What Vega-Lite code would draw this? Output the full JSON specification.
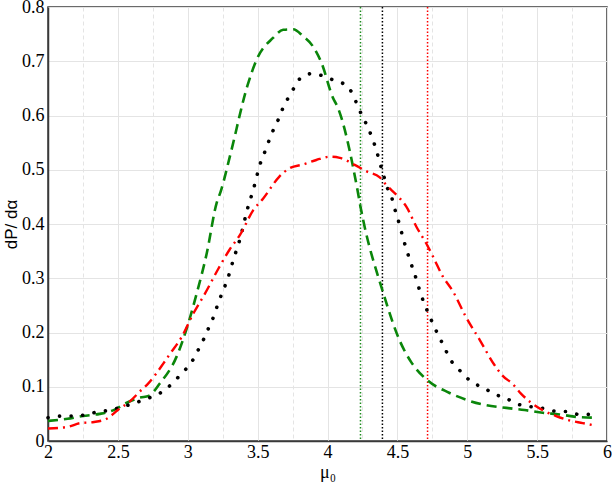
{
  "$schema": "https://vega.github.io/schema/vega-lite/v6.json",
  "width": 559,
  "height": 434,
  "autosize": {"type": "none"},
  "padding": {"left": 48, "top": 7, "right": 5, "bottom": 42},
  "background": "white",
  "config": {
    "view": {"stroke": "#3a3a3a", "strokeWidth": 1.5},
    "axis": {
      "domain": true, "domainColor": "#3a3a3a", "domainWidth": 1.5,
      "ticks": false,
      "labelFont": "Liberation Serif", "labelFontSize": 18, "labelColor": "#000",
      "labelFlush": false, "labelOverlap": false,
      "gridColor": "#e4e4e4", "gridWidth": 1,
      "titleColor": "#000"
    }
  },
  "datasets": {
    "curves": [
      {"s": "A", "x": 2.0, "y": 0.037}, {"s": "A", "x": 2.14, "y": 0.041}, {"s": "A", "x": 2.25, "y": 0.046}, {"s": "A", "x": 2.37, "y": 0.05}, {"s": "A", "x": 2.47, "y": 0.057}, {"s": "A", "x": 2.56, "y": 0.07}, {"s": "A", "x": 2.66, "y": 0.08}, {"s": "A", "x": 2.72, "y": 0.083}, {"s": "A", "x": 2.8, "y": 0.106}, {"s": "A", "x": 2.921, "y": 0.156}, {"s": "A", "x": 3.004, "y": 0.217}, {"s": "A", "x": 3.064, "y": 0.272}, {"s": "A", "x": 3.136, "y": 0.346}, {"s": "A", "x": 3.207, "y": 0.439}, {"s": "A", "x": 3.236, "y": 0.46}, {"s": "A", "x": 3.302, "y": 0.525}, {"s": "A", "x": 3.426, "y": 0.654}, {"s": "A", "x": 3.493, "y": 0.703}, {"s": "A", "x": 3.61, "y": 0.743}, {"s": "A", "x": 3.683, "y": 0.758}, {"s": "A", "x": 3.754, "y": 0.759}, {"s": "A", "x": 3.826, "y": 0.746}, {"s": "A", "x": 3.897, "y": 0.727}, {"s": "A", "x": 3.957, "y": 0.697}, {"s": "A", "x": 4.04, "y": 0.632}, {"s": "A", "x": 4.07, "y": 0.617}, {"s": "A", "x": 4.21, "y": 0.469}, {"s": "A", "x": 4.236, "y": 0.432}, {"s": "A", "x": 4.4, "y": 0.272}, {"s": "A", "x": 4.52, "y": 0.183}, {"s": "A", "x": 4.6, "y": 0.145}, {"s": "A", "x": 4.71, "y": 0.113}, {"s": "A", "x": 4.87, "y": 0.089}, {"s": "A", "x": 5.016, "y": 0.074}, {"s": "A", "x": 5.136, "y": 0.066}, {"s": "A", "x": 5.28, "y": 0.061}, {"s": "A", "x": 5.41, "y": 0.057}, {"s": "A", "x": 5.54, "y": 0.052}, {"s": "A", "x": 5.66, "y": 0.049}, {"s": "A", "x": 5.8, "y": 0.044}, {"s": "A", "x": 5.92, "y": 0.043},
      {"s": "B", "x": 2.0, "y": 0.043}, {"s": "B", "x": 2.1, "y": 0.046}, {"s": "B", "x": 2.19, "y": 0.046}, {"s": "B", "x": 2.28, "y": 0.049}, {"s": "B", "x": 2.36, "y": 0.054}, {"s": "B", "x": 2.45, "y": 0.057}, {"s": "B", "x": 2.53, "y": 0.063}, {"s": "B", "x": 2.61, "y": 0.069}, {"s": "B", "x": 2.695, "y": 0.077}, {"s": "B", "x": 2.779, "y": 0.085}, {"s": "B", "x": 2.85, "y": 0.097}, {"s": "B", "x": 2.914, "y": 0.113}, {"s": "B", "x": 2.974, "y": 0.129}, {"s": "B", "x": 3.029, "y": 0.146}, {"s": "B", "x": 3.071, "y": 0.166}, {"s": "B", "x": 3.111, "y": 0.186}, {"s": "B", "x": 3.147, "y": 0.207}, {"s": "B", "x": 3.183, "y": 0.228}, {"s": "B", "x": 3.211, "y": 0.249}, {"s": "B", "x": 3.243, "y": 0.271}, {"s": "B", "x": 3.274, "y": 0.291}, {"s": "B", "x": 3.302, "y": 0.312}, {"s": "B", "x": 3.326, "y": 0.334}, {"s": "B", "x": 3.354, "y": 0.356}, {"s": "B", "x": 3.379, "y": 0.377}, {"s": "B", "x": 3.4, "y": 0.399}, {"s": "B", "x": 3.42, "y": 0.421}, {"s": "B", "x": 3.445, "y": 0.443}, {"s": "B", "x": 3.47, "y": 0.464}, {"s": "B", "x": 3.493, "y": 0.487}, {"s": "B", "x": 3.516, "y": 0.509}, {"s": "B", "x": 3.547, "y": 0.53}, {"s": "B", "x": 3.576, "y": 0.55}, {"s": "B", "x": 3.61, "y": 0.572}, {"s": "B", "x": 3.647, "y": 0.592}, {"s": "B", "x": 3.68, "y": 0.613}, {"s": "B", "x": 3.72, "y": 0.633}, {"s": "B", "x": 3.766, "y": 0.653}, {"s": "B", "x": 3.814, "y": 0.671}, {"s": "B", "x": 3.886, "y": 0.677}, {"s": "B", "x": 3.969, "y": 0.673}, {"s": "B", "x": 4.052, "y": 0.664}, {"s": "B", "x": 4.131, "y": 0.656}, {"s": "B", "x": 4.179, "y": 0.64}, {"s": "B", "x": 4.214, "y": 0.619}, {"s": "B", "x": 4.25, "y": 0.598}, {"s": "B", "x": 4.29, "y": 0.578}, {"s": "B", "x": 4.32, "y": 0.558}, {"s": "B", "x": 4.35, "y": 0.536}, {"s": "B", "x": 4.374, "y": 0.513}, {"s": "B", "x": 4.397, "y": 0.494}, {"s": "B", "x": 4.42, "y": 0.472}, {"s": "B", "x": 4.457, "y": 0.451}, {"s": "B", "x": 4.48, "y": 0.429}, {"s": "B", "x": 4.505, "y": 0.408}, {"s": "B", "x": 4.552, "y": 0.364}, {"s": "B", "x": 4.58, "y": 0.341}, {"s": "B", "x": 4.607, "y": 0.32}, {"s": "B", "x": 4.636, "y": 0.298}, {"s": "B", "x": 4.66, "y": 0.277}, {"s": "B", "x": 4.69, "y": 0.255}, {"s": "B", "x": 4.724, "y": 0.234}, {"s": "B", "x": 4.758, "y": 0.214}, {"s": "B", "x": 4.797, "y": 0.193}, {"s": "B", "x": 4.838, "y": 0.172}, {"s": "B", "x": 4.874, "y": 0.152}, {"s": "B", "x": 4.93, "y": 0.135}, {"s": "B", "x": 4.99, "y": 0.118}, {"s": "B", "x": 5.06, "y": 0.105}, {"s": "B", "x": 5.136, "y": 0.095}, {"s": "B", "x": 5.21, "y": 0.085}, {"s": "B", "x": 5.29, "y": 0.077}, {"s": "B", "x": 5.373, "y": 0.067}, {"s": "B", "x": 5.46, "y": 0.063}, {"s": "B", "x": 5.545, "y": 0.06}, {"s": "B", "x": 5.63, "y": 0.055}, {"s": "B", "x": 5.72, "y": 0.054}, {"s": "B", "x": 5.8, "y": 0.049}, {"s": "B", "x": 5.89, "y": 0.049},
      {"s": "C", "x": 2.0, "y": 0.023}, {"s": "C", "x": 2.14, "y": 0.026}, {"s": "C", "x": 2.23, "y": 0.033}, {"s": "C", "x": 2.33, "y": 0.035}, {"s": "C", "x": 2.42, "y": 0.041}, {"s": "C", "x": 2.5, "y": 0.057}, {"s": "C", "x": 2.59, "y": 0.074}, {"s": "C", "x": 2.66, "y": 0.092}, {"s": "C", "x": 2.71, "y": 0.104}, {"s": "C", "x": 2.826, "y": 0.143}, {"s": "C", "x": 2.874, "y": 0.161}, {"s": "C", "x": 2.957, "y": 0.192}, {"s": "C", "x": 3.04, "y": 0.235}, {"s": "C", "x": 3.124, "y": 0.272}, {"s": "C", "x": 3.22, "y": 0.318}, {"s": "C", "x": 3.3, "y": 0.353}, {"s": "C", "x": 3.374, "y": 0.38}, {"s": "C", "x": 3.47, "y": 0.426}, {"s": "C", "x": 3.54, "y": 0.447}, {"s": "C", "x": 3.654, "y": 0.487}, {"s": "C", "x": 3.73, "y": 0.503}, {"s": "C", "x": 3.83, "y": 0.51}, {"s": "C", "x": 3.92, "y": 0.518}, {"s": "C", "x": 4.016, "y": 0.524}, {"s": "C", "x": 4.088, "y": 0.522}, {"s": "C", "x": 4.195, "y": 0.509}, {"s": "C", "x": 4.28, "y": 0.497}, {"s": "C", "x": 4.374, "y": 0.486}, {"s": "C", "x": 4.42, "y": 0.472}, {"s": "C", "x": 4.504, "y": 0.451}, {"s": "C", "x": 4.564, "y": 0.432}, {"s": "C", "x": 4.636, "y": 0.395}, {"s": "C", "x": 4.707, "y": 0.364}, {"s": "C", "x": 4.755, "y": 0.34}, {"s": "C", "x": 4.826, "y": 0.303}, {"s": "C", "x": 4.897, "y": 0.276}, {"s": "C", "x": 4.99, "y": 0.229}, {"s": "C", "x": 5.09, "y": 0.186}, {"s": "C", "x": 5.195, "y": 0.14}, {"s": "C", "x": 5.25, "y": 0.121}, {"s": "C", "x": 5.326, "y": 0.105}, {"s": "C", "x": 5.386, "y": 0.087}, {"s": "C", "x": 5.45, "y": 0.072}, {"s": "C", "x": 5.54, "y": 0.057}, {"s": "C", "x": 5.636, "y": 0.046}, {"s": "C", "x": 5.73, "y": 0.038}, {"s": "C", "x": 5.826, "y": 0.033}, {"s": "C", "x": 5.92, "y": 0.028}
    ],
    "vlines": [
      {"s": "A", "x": 4.236},
      {"s": "B", "x": 4.393},
      {"s": "C", "x": 4.716}
    ]
  },
  "encoding": {
    "x": {
      "field": "x", "type": "quantitative",
      "scale": {"domain": [2, 6], "nice": false, "zero": false},
      "axis": {
        "values": [2, 2.25, 2.5, 2.75, 3, 3.25, 3.5, 3.75, 4, 4.25, 4.5, 4.75, 5, 5.25, 5.5, 5.75, 6],
        "labelExpr": "round(datum.value*2) != datum.value*2 ? '' : '' + datum.value",
        "gridDash": {"condition": {"test": "round(datum.value*2) != datum.value*2", "value": [4, 3]}, "value": []},
        "labelFont": "Liberation Serif", "labelFontSize": 18,
        "labelPadding": 2,
        "title": "μ₀",
        "titleFont": "Liberation Serif", "titleFontSize": 18, "titleFontWeight": "normal",
        "titlePadding": 2
      }
    }
  },
  "layer": [
    {
      "data": {"name": "vlines"},
      "mark": {"type": "rule", "strokeWidth": 1.5, "strokeDash": [1.5, 2]},
      "encoding": {
        "color": {"field": "s", "type": "nominal", "scale": {"domain": ["A", "B", "C"], "range": ["#1e8c1e", "#000000", "#ff0000"]}, "legend": null}
      }
    },
    {
      "data": {"name": "curves"},
      "transform": [{"filter": "datum.s == 'A'"}],
      "mark": {"type": "line", "color": "#0a860a", "strokeWidth": 2.6, "strokeDash": [10, 6], "interpolate": "monotone"},
      "encoding": {
        "y": {
          "field": "y", "type": "quantitative",
          "scale": {"domain": [0, 0.8], "nice": false},
          "axis": {
            "values": [0, 0.05, 0.1, 0.15, 0.2, 0.25, 0.3, 0.35, 0.4, 0.45, 0.5, 0.55, 0.6, 0.65, 0.7, 0.75, 0.8],
            "labelExpr": "abs(datum.value*10 - round(datum.value*10)) > 0.01 ? '' : '' + datum.value",
            "gridDash": {"condition": {"test": "abs(datum.value*10 - round(datum.value*10)) > 0.01", "value": [4, 3]}, "value": []},
            "labelFont": "Liberation Serif", "labelFontSize": 18,
            "labelPadding": 4,
            "title": "dP/ dα",
            "titleFont": "Liberation Sans", "titleFontSize": 17, "titleFontWeight": "normal",
            "titlePadding": 1
          }
        }
      }
    },
    {
      "data": {"name": "curves"},
      "transform": [{"filter": "datum.s == 'B'"}],
      "mark": {"type": "line", "color": "#000000", "strokeWidth": 3.6, "strokeDash": [0.1, 11.5], "strokeCap": "round", "interpolate": "monotone"},
      "encoding": {
        "y": {"field": "y", "type": "quantitative", "scale": {"domain": [0, 0.8], "nice": false}, "title": "dP/ dα"}
      }
    },
    {
      "data": {"name": "curves"},
      "transform": [{"filter": "datum.s == 'C'"}],
      "mark": {"type": "line", "color": "#ff0000", "strokeWidth": 2.4, "strokeDash": [10, 5, 2, 5], "interpolate": "monotone"},
      "encoding": {
        "y": {"field": "y", "type": "quantitative", "scale": {"domain": [0, 0.8], "nice": false}, "title": "dP/ dα"}
      }
    }
  ]
}
